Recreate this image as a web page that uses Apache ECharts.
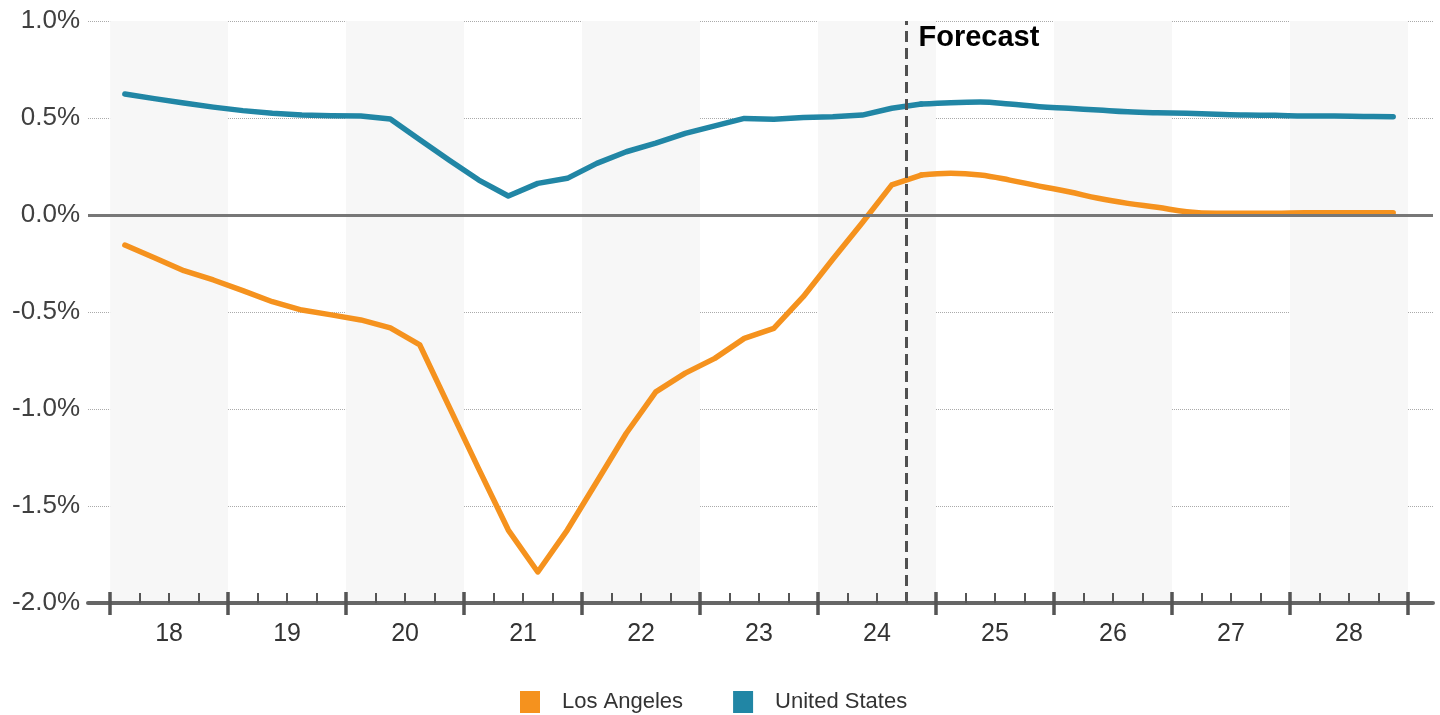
<!DOCTYPE html>
<html>
<head>
<meta charset="utf-8">
<script src="https://cdn.jsdelivr.net/npm/echarts@6/dist/echarts.min.js"></script>
<style>
  html, body { margin: 0; padding: 0; background: #fff; }
  #chart { width: 1440px; height: 715px; }
</style>
</head>
<body>
<div id="chart"></div>
<script>
// years on the axis, each split into 4 quarters
const years = ['18', '19', '20', '21', '22', '23', '24', '25', '26', '27', '28'];
const quarters = years.flatMap(y => ['Q1', 'Q2', 'Q3', 'Q4'].map(q => y + q));

// growth, % (quarterly, 18Q1 .. 28Q4)
const losAngeles = [
  -0.155, -0.22, -0.287, -0.335, -0.39, -0.447, -0.49, -0.515, -0.541, -0.582,
  -0.67, -0.99, -1.31, -1.624, -1.84, -1.624, -1.375, -1.125, -0.912, -0.815,
  -0.739, -0.636, -0.584, -0.421, -0.228, -0.04, 0.155, 0.206, 0.215, 0.206,
  0.18, 0.149, 0.12, 0.086, 0.06, 0.04, 0.017, 0.009, 0.009, 0.009,
  0.012, 0.012, 0.012, 0.012
];
const unitedStates = [
  0.624, 0.60, 0.577, 0.556, 0.538, 0.524, 0.515, 0.512, 0.51, 0.495,
  0.388, 0.282, 0.18, 0.098, 0.163, 0.189, 0.266, 0.326, 0.37, 0.421,
  0.459, 0.498, 0.493, 0.503, 0.507, 0.515, 0.55, 0.572, 0.579, 0.582,
  0.572, 0.558, 0.55, 0.541, 0.532, 0.527, 0.524, 0.519, 0.515, 0.514,
  0.51, 0.51, 0.508, 0.507
];
const forecastStart = 27; // first forecast quarter (24Q4)

const ORANGE = '#F5921E';
const BLUE = '#2186A5';
const FONT = '"Liberation Sans", Arial, sans-serif';

// x in quarter units: quarter i sits in the middle of [i, i+1]
const pts = arr => arr.map((v, i) => [i + 0.5, v]);
const hist = arr => pts(arr).slice(0, forecastStart + 1);
const fcst = arr => pts(arr).slice(forecastStart);

const yearEdges = years.map((y, i) => i * 4).concat([quarters.length]);
const yearMids = years.map((y, i) => i * 4 + 2);
const quarterEdges = quarters.map((q, i) => i).filter(i => i % 4 !== 0);
const bands = years.map((y, i) => i).filter(i => i % 2 === 0)
  .map(i => [{ xAxis: i * 4 }, { xAxis: i * 4 + 4 }]);

const xBase = { type: 'value', min: -0.75, max: 44.85, gridIndex: 0, position: 'bottom',
  splitLine: { show: false }, z: 10 };

const chart = echarts.init(document.getElementById('chart'));
chart.setOption({
  animation: false,
  grid: { left: 88, right: 7, top: 21, bottom: 112, containLabel: false },
  xAxis: [
    Object.assign({}, xBase, {
      axisLine: { show: true, onZero: false, lineStyle: { color: '#666', width: 4 } },
      axisTick: { show: true, customValues: yearEdges, length: 12, inside: false,
        lineStyle: { color: '#555', width: 3.5 } },
      axisLabel: { show: true, customValues: yearMids, margin: 19,
        formatter: v => years[(v - 2) / 4], color: '#333', fontSize: 25, fontFamily: FONT }
    }),
    Object.assign({}, xBase, {
      axisLine: { show: false, onZero: false },
      axisTick: { show: true, customValues: yearEdges, length: 11, inside: true,
        lineStyle: { color: '#555', width: 3.5 } },
      axisLabel: { show: false }
    }),
    Object.assign({}, xBase, {
      axisLine: { show: false, onZero: false },
      axisTick: { show: true, customValues: quarterEdges, length: 10, inside: true,
        lineStyle: { color: '#555', width: 2 } },
      axisLabel: { show: false }
    })
  ],
  yAxis: {
    type: 'value', min: -2, max: 1, interval: 0.5,
    axisLine: { show: false }, axisTick: { show: false },
    axisLabel: { formatter: v => v.toFixed(1) + '%', color: '#404040', fontSize: 26,
      fontFamily: FONT, margin: 8 },
    splitLine: { show: true, lineStyle: { color: '#aaa', type: 'dotted', width: 1 } }
  },
  legend: {
    data: ['Los Angeles', 'United States'],
    left: 515, top: 686, icon: 'rect', itemWidth: 20, itemHeight: 22, itemGap: 50,
    textStyle: { color: '#333', fontSize: 22, fontFamily: FONT, padding: [0, 0, 0, 17] }
  },
  series: [
    {
      name: 'bands', type: 'line', data: [], silent: true, z: 0,
      markArea: { silent: true, itemStyle: { color: '#f7f7f7' }, data: bands }
    },
    {
      name: 'lines', type: 'line', data: [], silent: true,
      markLine: {
        silent: true, symbol: 'none', label: { show: false },
        data: [
          { yAxis: 0, lineStyle: { color: '#777', width: 3, type: 'solid' } },
          { xAxis: forecastStart, lineStyle: { color: '#505050', width: 3, type: [11, 6] } }
        ]
      },
      z: 3
    },
    { name: 'United States', type: 'line', data: hist(unitedStates), showSymbol: false,
      lineStyle: { color: BLUE, width: 5.5, cap: 'round', join: 'round' }, itemStyle: { color: BLUE }, z: 4 },
    { name: 'United States', type: 'line', data: fcst(unitedStates), showSymbol: false, smooth: 0.4,
      lineStyle: { color: BLUE, width: 5.5, cap: 'round', join: 'round' }, itemStyle: { color: BLUE }, z: 4 },
    { name: 'Los Angeles', type: 'line', data: hist(losAngeles), showSymbol: false,
      lineStyle: { color: ORANGE, width: 5.5, cap: 'round', join: 'round' }, itemStyle: { color: ORANGE }, z: 4 },
    { name: 'Los Angeles', type: 'line', data: fcst(losAngeles), showSymbol: false, smooth: 0.4,
      lineStyle: { color: ORANGE, width: 5.5, cap: 'round', join: 'round' }, itemStyle: { color: ORANGE }, z: 4 }
  ]
});

// "Forecast" label just right of the dashed line, at the top of the plot
const fcTop = chart.convertToPixel({ xAxisIndex: 0, yAxisIndex: 0 }, [forecastStart, 1]);
chart.setOption({
  graphic: [{
    type: 'text', left: fcTop[0] + 12, top: fcTop[1] + 2, z: 100,
    style: { text: 'Forecast', fill: '#000', font: 'bold 29px ' + FONT }
  }]
});
</script>
</body>
</html>
